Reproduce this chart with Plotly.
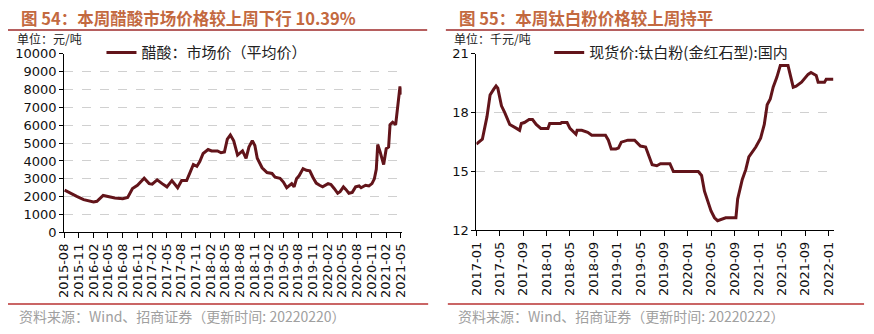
import plotly.graph_objects as go

W, H = 874, 334

# ---------- data: left chart (acetic acid, 元/吨) ----------
acetic_dates = [
    "2015-08-04", "2015-08-28", "2015-10-19", "2015-12-01", "2016-02-01", "2016-02-22",
    "2016-04-01", "2016-05-01", "2016-06-13", "2016-08-01", "2016-09-01", "2016-10-01",
    "2016-11-01", "2016-12-13", "2017-01-13", "2017-02-01", "2017-03-04", "2017-04-04",
    "2017-05-04", "2017-06-04", "2017-06-28", "2017-07-10", "2017-08-04", "2017-09-04",
    "2017-09-25", "2017-10-16", "2017-11-07", "2017-11-25", "2017-12-16", "2018-01-16",
    "2018-02-07", "2018-03-16", "2018-04-07", "2018-04-28", "2018-05-16", "2018-06-04",
    "2018-06-25", "2018-07-19", "2018-08-19", "2018-09-10", "2018-09-28", "2018-10-19",
    "2018-11-04", "2018-11-19", "2018-12-19", "2019-01-19", "2019-02-19", "2019-03-10",
    "2019-04-10", "2019-05-01", "2019-05-22", "2019-06-10", "2019-06-22", "2019-07-07",
    "2019-07-22", "2019-08-07", "2019-09-01", "2019-09-22", "2019-10-13", "2019-11-01",
    "2019-11-22", "2019-12-13", "2020-01-01", "2020-02-04", "2020-02-22", "2020-03-13",
    "2020-04-04", "2020-04-19", "2020-05-10", "2020-05-25", "2020-06-13", "2020-07-04",
    "2020-07-25", "2020-08-16", "2020-08-28", "2020-09-25", "2020-10-16", "2020-11-04",
    "2020-11-19", "2020-12-01", "2020-12-10", "2020-12-25", "2021-01-16", "2021-02-01",
    "2021-02-16", "2021-02-25", "2021-03-13", "2021-04-01", "2021-04-16", "2021-04-28",
    "2021-05-10",
]
acetic_values = [
    2370, 2245, 2015, 1835, 1710, 1745,
    2070, 2010, 1925, 1890, 1960, 2460,
    2640, 3030, 2730, 2700, 2940, 2730,
    2550, 2900, 2650, 2500, 2900, 2900,
    3350, 3800, 3700, 3970, 4420, 4640,
    4560, 4560, 4460, 4500, 5220, 5450,
    5130, 4330, 4560, 4150, 4780, 5130,
    4870, 4150, 3620, 3350, 3300, 3090,
    3030, 2820, 2500, 2640, 2730, 2550,
    3000, 3170, 3570, 3480, 3450, 3090,
    2760, 2640, 2550, 2730, 2680, 2460,
    2190, 2280, 2550, 2410, 2190, 2240,
    2550, 2600, 2500, 2640, 2600, 2730,
    3000, 3530, 4920, 4510, 3800, 4690,
    4780, 6030, 6170, 6030, 7100, 8170,
    7720,
]
acetic_ticks = [
    "2015-08", "2015-11", "2016-02", "2016-05", "2016-08", "2016-11",
    "2017-02", "2017-05", "2017-08", "2017-11", "2018-02", "2018-05",
    "2018-08", "2018-11", "2019-02", "2019-05", "2019-08", "2019-11",
    "2020-02", "2020-05", "2020-08", "2020-11", "2021-02", "2021-05",
]
acetic_yticks = [0, 1000, 2000, 3000, 4000, 5000, 6000, 7000, 8000, 9000, 10000]

# ---------- data: right chart (titanium dioxide, 千元/吨) ----------
tio2_dates = [
    "2017-01-01", "2017-01-22", "2017-02-01", "2017-02-25", "2017-03-13", "2017-04-01",
    "2017-04-13", "2017-04-22", "2017-05-11", "2017-05-28", "2017-06-23", "2017-07-28",
    "2017-08-13", "2017-08-22", "2017-09-07", "2017-10-01", "2017-10-19", "2017-11-07",
    "2017-12-01", "2018-01-07", "2018-01-16", "2018-03-13", "2018-03-19", "2018-04-16",
    "2018-05-01", "2018-06-01", "2018-06-07", "2018-07-01", "2018-08-01", "2018-08-22",
    "2018-11-01", "2018-11-16", "2018-12-01", "2018-12-25", "2019-01-07", "2019-01-22",
    "2019-02-25", "2019-04-01", "2019-05-01", "2019-05-28", "2019-06-16", "2019-07-01",
    "2019-07-25", "2019-08-13", "2019-10-01", "2019-10-19", "2020-02-25", "2020-03-13",
    "2020-03-28", "2020-04-16", "2020-05-01", "2020-05-19", "2020-06-04", "2020-07-16",
    "2020-09-07", "2020-09-16", "2020-10-10", "2020-10-28", "2020-11-13", "2020-12-19",
    "2021-01-13", "2021-02-01", "2021-02-16", "2021-03-04", "2021-03-19", "2021-04-07",
    "2021-04-25", "2021-06-04", "2021-07-01", "2021-07-16", "2021-08-13", "2021-09-16",
    "2021-10-01", "2021-10-28", "2021-11-07", "2021-12-10", "2021-12-19", "2022-01-25",
]
tio2_values = [
    16.4, 16.6, 16.65, 17.8, 18.9, 19.2,
    19.36, 19.25, 18.35, 18.0, 17.4, 17.2,
    17.1, 17.45, 17.5, 17.65, 17.65, 17.4,
    17.2, 17.2, 17.45, 17.45, 17.5, 17.5,
    17.2, 16.9, 17.1, 17.1, 17.0, 16.85,
    16.85, 16.6, 16.15, 16.15, 16.2, 16.5,
    16.6, 16.6, 16.3, 16.25, 15.8, 15.35,
    15.3, 15.4, 15.4, 15.0, 15.0, 14.8,
    14.0, 13.5, 13.0, 12.65, 12.5, 12.65,
    12.65, 13.6, 14.6, 15.1, 15.75, 16.25,
    16.7, 17.4, 18.4, 18.7, 19.3, 19.8,
    20.4, 20.4, 19.3, 19.35, 19.55, 19.95,
    20.05, 19.9, 19.55, 19.55, 19.7, 19.7,
]
tio2_ticks = [
    "2017-01", "2017-05", "2017-09", "2018-01", "2018-05", "2018-09",
    "2019-01", "2019-05", "2019-09", "2020-01", "2020-05", "2020-09",
    "2021-01", "2021-05", "2021-09", "2022-01",
]
tio2_yticks = [12, 15, 18, 21]

# ---------- style ----------
LINE_COLOR = "#62141A"
TITLE_COLOR = "#C3693F"
RULE_TOP = "#9E2A2A"
RULE_BOTTOM = "#B83232"
SRC_COLOR = "#A0A0A0"
TICK_FONT = dict(family="DejaVu Sans", size=13, color="#111111")
CJK = "Noto Sans CJK SC"


def px_x(p):
    return p / W


def px_y(p):
    return 1 - p / H


fig = go.Figure()

fig.add_trace(go.Scatter(
    x=acetic_dates, y=acetic_values, mode="lines",
    line=dict(color=LINE_COLOR, width=3),
    name="醋酸：市场价（平均价）", xaxis="x", yaxis="y", legend="legend",
))
fig.add_trace(go.Scatter(
    x=tio2_dates, y=tio2_values, mode="lines",
    line=dict(color=LINE_COLOR, width=3),
    name="现货价:钛白粉(金红石型):国内", xaxis="x2", yaxis="y2", legend="legend2",
))

common_x = dict(
    type="date", showline=True, linecolor="#000000", linewidth=1,
    ticks="outside", ticklen=5, tickcolor="#000000", tickangle=-90,
    tickfont=TICK_FONT, showgrid=False, zeroline=False,
)
common_y = dict(
    showline=True, linecolor="#000000", linewidth=1,
    ticks="outside", ticklen=4, tickcolor="#000000",
    tickfont=TICK_FONT, showgrid=True, gridcolor="#D0D0D0", griddash="dash",
    gridwidth=1, zeroline=False, tickformat="d",
)

fig.update_layout(
    width=W, height=H,
    margin=dict(l=0, r=0, t=0, b=0),
    paper_bgcolor="white", plot_bgcolor="white",
    showlegend=True,
    xaxis=dict(
        common_x, domain=[px_x(57), px_x(400)], anchor="y",
        range=["2015-08-01", "2021-05-08"],
        tickvals=[t + "-01" for t in acetic_ticks], ticktext=acetic_ticks,
    ),
    yaxis=dict(
        common_y, domain=[px_y(236), px_y(49)], anchor="x",
        range=[0, 10000], tickvals=acetic_yticks,
    ),
    xaxis2=dict(
        common_x, domain=[px_x(476), px_x(839)], anchor="y2",
        range=["2017-01-01", "2022-01-26"],
        tickvals=[t + "-01" for t in tio2_ticks], ticktext=tio2_ticks,
    ),
    yaxis2=dict(
        common_y, domain=[px_y(234), px_y(49)], anchor="x2",
        range=[12, 21], tickvals=tio2_yticks,
    ),
    legend=dict(
        x=px_x(95), y=px_y(48), xanchor="left", yanchor="middle",
        bgcolor="rgba(0,0,0,0)", borderwidth=0,
        font=dict(family=CJK, size=15, color="#222222"),
        itemwidth=30,
    ),
    legend2=dict(
        x=px_x(550), y=px_y(48), xanchor="left", yanchor="middle",
        bgcolor="rgba(0,0,0,0)", borderwidth=0,
        font=dict(family=CJK, size=15, color="#222222"),
        itemwidth=30,
    ),
)

annotations = [
    dict(text="<b>图 54：本周醋酸市场价格较上周下行 10.39%</b>", x=px_x(11), y=px_y(12),
         font=dict(family=CJK, size=16.5, color=TITLE_COLOR)),
    dict(text="<b>图 55：本周钛白粉价格较上周持平</b>", x=px_x(456), y=px_y(12),
         font=dict(family=CJK, size=16.5, color=TITLE_COLOR)),
    dict(text="单位：元/吨", x=px_x(7), y=px_y(33.5),
         font=dict(family=CJK, size=12, color="#222222")),
    dict(text="单位：千元/吨", x=px_x(451), y=px_y(33.5),
         font=dict(family=CJK, size=12, color="#222222")),
    dict(text="资料来源：Wind、招商证券（更新时间: 20220220）", x=px_x(9), y=px_y(324),
         font=dict(family=CJK, size=14, color=SRC_COLOR)),
    dict(text="资料来源：Wind、招商证券（更新时间: 20220222）", x=px_x(455), y=px_y(324),
         font=dict(family=CJK, size=14, color=SRC_COLOR)),
]
for a in annotations:
    a.update(xref="paper", yref="paper", xanchor="left", yanchor="middle",
             showarrow=False)
fig.update_layout(annotations=annotations)

shapes = [
    dict(x0=px_x(0), x1=px_x(426), y0=px_y(24), y1=px_y(24), line=dict(color=RULE_TOP, width=1.5)),
    dict(x0=px_x(445), x1=px_x(870), y0=px_y(24), y1=px_y(24), line=dict(color=RULE_TOP, width=1.5)),
    dict(x0=px_x(0), x1=px_x(427), y0=px_y(311), y1=px_y(311), line=dict(color=RULE_BOTTOM, width=1.5)),
    dict(x0=px_x(447), x1=px_x(870), y0=px_y(311), y1=px_y(311), line=dict(color=RULE_BOTTOM, width=1.5)),
]
for s in shapes:
    s.update(type="line", xref="paper", yref="paper")
fig.update_layout(shapes=shapes)

fig.write_html("out.html")
